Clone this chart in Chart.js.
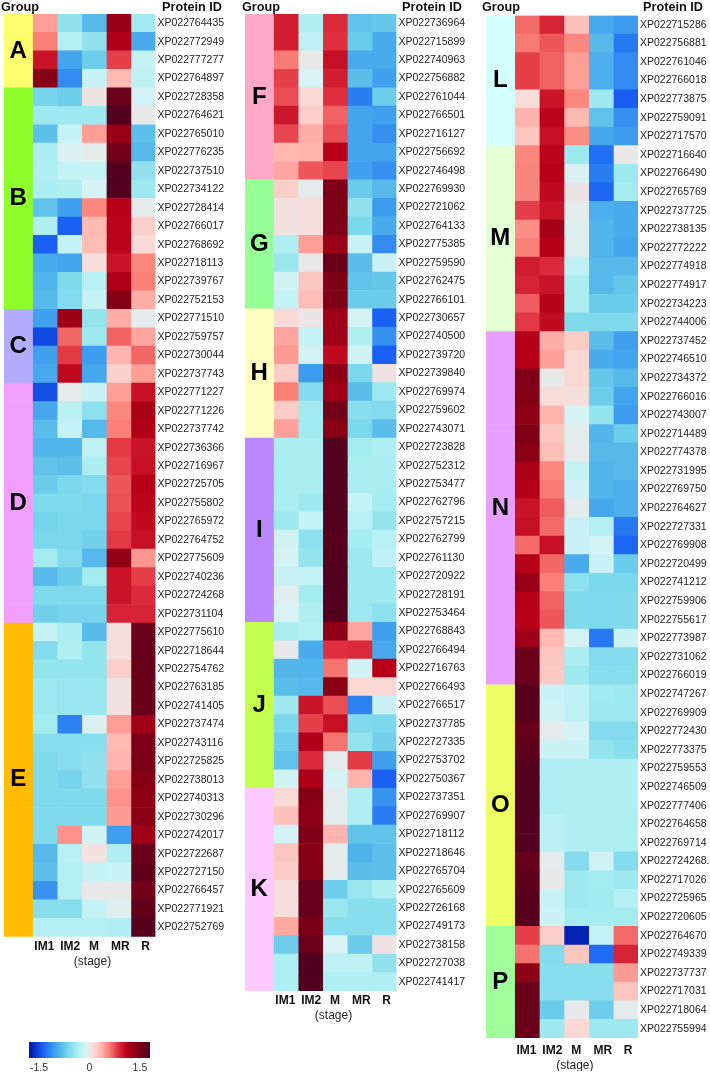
<!DOCTYPE html>
<html>
<head>
<meta charset="utf-8">
<title>Protein heatmap</title>
<script src="https://cdn.jsdelivr.net/npm/chart.js@4"></script>
<style>
  body { margin: 0; background: #fff; }
  canvas { position: absolute; top: 0; }
</style>
</head>
<body>
<canvas id="panel1" width="240" height="970" style="left:0"></canvas>
<canvas id="panel2" width="240" height="1024" style="left:240px"></canvas>
<canvas id="panel3" width="230" height="1071" style="left:480px"></canvas>
<canvas id="colorbar" width="180" height="44" style="left:0;top:1030px"></canvas>
<script>
const stages = ['IM1', 'IM2', 'M', 'MR', 'R'];
// labels in the original are not quite centred on their columns
const stageTicks = [0.48, 1.53, 2.5, 3.57, 4.6];

const groupColors = {
  A: '#fdff6e', B: '#8fff2c', C: '#b3adff', D: '#f29eff', E: '#ffbc00', F: '#ffa8c8',
  G: '#96ff96', H: '#ffffc0', I: '#bb88ff', J: '#c4ff4d', K: '#ffc8ff', L: '#d4ffff',
  M: '#e4ffd4', N: '#e8a0ff', O: '#eeff66', P: '#a0ff9a'
};

// colour key of the heatmap
const keyValues = [-1.8, -1.55, -1.38, -1.25, -1.03, -0.83, -0.62, -0.38, -0.22, -0.1, 0, 0.12, 0.35, 0.58, 0.85, 1.1, 1.4, 1.8];
const keyColors = ['#00109a', '#0c40d8', '#1a60f4', '#2878f2', '#40a0ee', '#58bcea', '#7cd8ec', '#a5ecf0', '#c5f2f5', '#d8f2f5',
  '#e8e8e8', '#f8dcd8', '#ffb5ae', '#fa8078', '#e03040', '#b80018', '#860015', '#50001e'];
const keyTicks = [-1.5, 0, 1.5];

const panel1Groups = ['A', 'B', 'C', 'D', 'E'];
const panel1Sizes = [4, 12, 4, 13, 17];
const panel1Ids = ['XP022764435','XP022772949','XP022777277','XP022764897','XP022728358','XP022764621','XP022765010','XP022776235',
  'XP022737510','XP022734122','XP022728414','XP022766017','XP022768692','XP022718113','XP022739767','XP022752153',
  'XP022771510','XP022759757','XP022730044','XP022737743','XP022771227','XP022771226','XP022737742','XP022736366',
  'XP022716967','XP022725705','XP022755802','XP022765972','XP022764752','XP022775609','XP022740236','XP022724268',
  'XP022731104','XP022775610','XP022718644','XP022754762','XP022763185','XP022741405','XP022737474','XP022743116',
  'XP022725825','XP022738013','XP022740313','XP022730296','XP022742017','XP022722687','XP022727150','XP022766457',
  'XP022771921','XP022752769'];
const panel1Values = [
  [.45,-.5,-.85,1.3,-.4],[.58,-.3,-.5,1.15,-.95],[1.0,-1.0,-.7,.8,-.22],[1.4,-1.15,-.2,.32,-.25],
  [-.65,-.7,.05,1.6,-.13],[-.42,-.42,-.42,1.78,0],[-.8,-.22,.45,1.3,-.8],[-.35,-.08,-.02,1.55,-.85],
  [-.32,-.22,-.22,1.78,-.5],[-.35,-.32,-.12,1.78,-.42],[-.78,-1.03,.55,1.1,-.02],[-.32,-1.38,.32,1.08,.2],
  [-1.38,-.22,.3,1.08,.13],[-.95,-1.0,.1,1.0,.55],[-.88,-.6,-.28,1.15,.58],[-.85,-.58,-.22,1.4,.38],
  [-1.03,1.25,-.48,.38,-.03],[-1.5,.66,-.42,.68,.42],[-1.03,.82,-1.05,.35,.66],[-.97,1.05,-.98,.18,.45],
  [-1.48,-.02,-.18,.45,1.02],[-.98,-.27,-.52,.55,1.2],[-.82,-.22,-.85,.58,1.15],[-.88,-.88,-.25,.82,1.0],
  [-.78,-.8,-.35,.78,1.02],[-.72,-.62,-.58,.72,1.12],[-.6,-.6,-.62,.74,1.08],[-.66,-.62,-.62,.78,1.05],
  [-.63,-.63,-.68,.82,1.02],[-.38,-.58,-.85,1.32,.48],[-.85,-.72,-.38,1.0,.8],[-.6,-.6,-.6,1.0,.88],
  [-.68,-.65,-.65,.92,.92],[-.22,-.35,-.85,.08,1.6],[-.58,-.32,-.48,.1,1.65],[-.48,-.48,-.48,.2,1.62],
  [-.42,-.45,-.45,.05,1.62],[-.42,-.45,-.45,.07,1.62],[-.38,-1.2,-.08,.45,1.25],[-.55,-.55,-.55,.32,1.5],
  [-.6,-.55,-.5,.35,1.5],[-.6,-.65,-.5,.45,1.4],[-.6,-.6,-.6,.5,1.35],[-.6,-.6,-.6,.46,1.38],
  [-.6,.5,-.15,-1.03,1.25],[-.85,-.28,.07,-.33,1.6],[-.8,-.3,-.22,-.2,1.68],[-1.1,-.3,0,0,1.55],
  [-.55,-.55,-.22,-.05,1.68],[-.3,-.3,-.3,-.33,1.75]
];

const panel2Groups = ['F', 'G', 'H', 'I', 'J', 'K'];
const panel2Sizes = [9, 7, 7, 10, 9, 11];
const panel2Ids = ['XP022736964','XP022715899','XP022740963','XP022756882','XP022761044','XP022766501','XP022716127','XP022756692',
  'XP022746498','XP022769930','XP022721062','XP022764133','XP022775385','XP022759590','XP022762475','XP022766101',
  'XP022730657','XP022740500','XP022739720','XP022739840','XP022769974','XP022759602','XP022743071','XP022723828',
  'XP022752312','XP022753477','XP022762796','XP022757215','XP022762799','XP022761130','XP022720922','XP022728191',
  'XP022753464','XP022768843','XP022766494','XP022716763','XP022766493','XP022766517','XP022737785','XP022727335',
  'XP022753702','XP022750367','XP022737351','XP022769907','XP022718112','XP022718646','XP022765704','XP022765609',
  'XP022726168','XP022749173','XP022738158','XP022727038','XP022741417'];
const panel2Values = [
  [.95,-.32,.88,-.78,-.75],[.95,-.25,.85,-.72,-.95],[.6,0,1.02,-.95,-.95],[.8,-.1,.95,-.82,-1.03],
  [.75,.13,.85,-1.22,-.7],[.98,.2,.68,-1.0,-1.03],[.78,.38,.75,-1.0,-1.12],[.33,.36,1.1,-1.0,-1.0],
  [.42,.72,.78,-1.03,-1.12],[.2,-.03,1.45,-.72,-.85],[.07,.1,1.45,-.5,-1.05],[.07,.1,1.45,-.62,-.95],
  [-.32,.45,1.3,-.2,-1.15],[-.45,0,1.62,-.82,-.2],[-.15,.25,1.45,-.78,-.75],[-.22,.3,1.45,-.72,-.72],
  [.13,.02,1.25,-.12,-1.38],[.42,-.22,1.25,-.32,-1.12],[.47,-.14,1.05,-.15,-1.38],[.22,-1.05,1.35,-.62,.06],
  [.58,-.58,1.25,-.82,-.42],[.22,-.4,1.55,-.55,-.58],[.44,-.4,1.38,-.62,-.82],[-.35,-.35,1.78,-.38,-.33],
  [-.36,-.36,1.78,-.36,-.36],[-.36,-.36,1.78,-.36,-.36],[-.35,-.42,1.78,-.22,-.38],[-.42,-.22,1.78,-.28,-.48],
  [-.15,-.52,1.75,-.38,-.28],[-.12,-.48,1.75,-.42,-.25],[-.2,-.22,1.78,-.42,-.42],[-.05,-.38,1.78,-.42,-.42],
  [-.1,-.32,1.78,-.42,-.52],[-.35,-.3,1.35,.42,-1.03],[0,-.95,.85,.88,-.97],[-.87,-.88,.62,-.15,1.1],
  [-.82,-.85,1.38,.15,.15],[-.42,1.0,.75,-1.2,-.18],[-.62,.8,1.02,-.6,-.62],[-.7,1.15,.62,-.48,-.68],
  [-.78,.88,-.03,.82,-1.03],[-.15,1.18,-.12,.36,-1.38],[.13,1.4,-.04,-.33,-1.1],[.28,1.35,-.04,-.33,-1.22],
  [-.14,1.45,.35,-.78,-.78],[.25,1.4,-.02,-.9,-.8],[.22,1.42,-.02,-.82,-.8],[.1,1.65,-.7,-.45,-.32],
  [.1,1.65,-.45,-.55,-.55],[.4,1.5,-.55,-.55,-.55],[-.7,1.6,-.1,-.72,.06],[-.33,1.8,-.25,-.25,-.5],
  [-.33,1.78,-.33,-.33,-.33]
];

const panel3Groups = ['L', 'M', 'N', 'O', 'P'];
const panel3Sizes = [7, 10, 19, 13, 6];
const panel3Ids = ['XP022715286','XP022756881','XP022761046','XP022766018','XP022773875','XP022759091','XP022717570','XP022716640',
  'XP022766490','XP022765769','XP022737725','XP022738135','XP022772222','XP022774918','XP022774917','XP022734223',
  'XP022744006','XP022737452','XP022746510','XP022734372','XP022766016','XP022743007','XP022714489','XP022774378',
  'XP022731995','XP022769750','XP022764627','XP022727331','XP022769908','XP022720499','XP022741212','XP022759906',
  'XP022755617','XP022773987','XP022731062','XP022766019','XP022747267','XP022769909','XP022772430','XP022773375',
  'XP022759553','XP022746509','XP022777406','XP022764658','XP022769714','XP022724268.','XP022717026','XP022725965',
  'XP022720605','XP022764670','XP022749339','XP022737737','XP022717031','XP022718064','XP022755994'];
const panel3Values = [
  [.65,.92,.28,-.97,-1.05],[.6,.72,.55,-.85,-1.25],[.8,.68,.45,-.93,-1.15],[.8,.68,.45,-.93,-1.15],
  [.12,1.0,.55,-.42,-1.4],[.36,1.08,.33,-.78,-1.12],[.25,1.02,.52,-.98,-1.05],[.55,1.08,-.42,-1.3,0],
  [.56,1.1,-.08,-1.22,-.42],[.56,1.05,.03,-1.35,-.38],[.8,1.0,-.03,-.93,-.95],[.52,1.22,-.06,-.88,-.95],
  [.58,1.12,-.05,-.88,-1.0],[.95,.88,-.25,-.85,-.85],[.92,1.0,-.35,-.85,-.75],[.7,1.1,-.35,-.72,-.72],
  [.82,1.05,-.6,-.6,-.6],[1.12,.38,.22,-.82,-1.03],[1.12,.44,.15,-.95,-1.0],[1.45,0,.15,-.75,-.85],
  [1.42,.12,.1,-.7,-1.0],[1.35,.35,-.12,-.48,-1.05],[1.45,.25,-.04,-.87,-.7],[1.38,.3,-.02,-.85,-.85],
  [1.2,.55,-.22,-.88,-.85],[1.12,.6,-.15,-.88,-.92],[1.0,.7,-.03,-.98,-.92],[1.02,.65,-.2,-.3,-1.25],
  [.65,1.02,-.2,-.13,-1.35],[1.12,.66,-.95,-.2,-.72],[1.3,.58,-.52,-.62,-.62],[1.12,.68,-.6,-.6,-.6],
  [1.1,.72,-.6,-.6,-.6],[1.25,.32,-.14,-1.25,-.18],[1.6,.25,-.35,-.58,-.58],[1.6,.24,-.42,-.55,-.55],
  [1.75,-.2,-.25,-.4,-.42],[1.75,-.15,-.25,-.42,-.42],[1.65,-.03,-.12,-.58,-.58],[1.7,-.18,-.18,-.48,-.55],
  [1.78,-.33,-.33,-.33,-.33],[1.78,-.33,-.33,-.33,-.33],[1.78,-.33,-.33,-.33,-.33],[1.78,-.27,-.32,-.33,-.34],
  [1.78,-.27,-.32,-.33,-.34],[1.65,-.03,-.58,-.15,-.58],[1.7,0,-.42,-.38,-.42],[1.75,-.2,-.42,-.4,-.3],
  [1.75,-.18,-.38,-.38,-.38],[.8,.2,-1.7,-.22,.65],[.62,-.58,.25,-1.32,.92],[1.35,-.55,-.55,-.55,.46],
  [1.6,-.55,-.55,-.55,.26],[1.6,-.72,0,-.7,-.02],[1.6,-.42,.14,-.42,-.42]
];

const FONT = '"Liberation Sans", Arial, sans-serif';

function hexToRgb(hex) {
  return [1, 3, 5].map(i => parseInt(hex.slice(i, i + 2), 16));
}

function heatColor(v) {
  let i = 0;
  while (i < keyValues.length - 2 && v > keyValues[i + 1]) i++;
  const t = Math.min(1, Math.max(0, (v - keyValues[i]) / (keyValues[i + 1] - keyValues[i])));
  const a = hexToRgb(keyColors[i]);
  const b = hexToRgb(keyColors[i + 1]);
  return `rgb(${a.map((c, k) => Math.round(c + (b[k] - c) * t)).join(',')})`;
}

function drawPanel(id, groups, sizes, ids, values, box) {
  // one colour per row for the group strip
  const rowGroups = [];
  groups.forEach((g, i) => {
    for (let n = 0; n < sizes[i]; n++) rowGroups.push(g);
  });

  const groupStrip = {
    data: ids.map(() => [box.stripMin, 0]),
    backgroundColor: rowGroups.map(g => groupColors[g])
  };
  const stageSets = stages.map((s, col) => ({
    label: s,
    data: ids.map(() => [col, col + 1]),
    backgroundColor: values.map(row => heatColor(row[col]))
  }));

  const labels = {
    id: 'panelText',
    afterDraw(chart) {
      const ctx = chart.ctx;
      const y = chart.scales.y;
      const x = chart.scales.x;
      ctx.save();
      ctx.fillStyle = '#000';
      ctx.textBaseline = 'middle';
      ctx.textAlign = 'center';
      ctx.font = `bold 24px ${FONT}`;
      let start = 0;
      groups.forEach((g, i) => {
        const end = start + sizes[i] - 1;
        const yMid = (y.getPixelForValue(start) + y.getPixelForValue(end)) / 2;
        ctx.fillText(g, x.getPixelForValue(box.stripMin / 2), yMid);
        start = end + 1;
      });
      // axis title sits over the stage columns, not over the whole area
      ctx.font = `12px ${FONT}`;
      ctx.fillStyle = '#222';
      ctx.fillText('(stage)', x.getPixelForValue(2.44), chart.chartArea.bottom + box.stageGap);
      ctx.textAlign = 'left';
      ctx.font = `bold 12.7px ${FONT}`;
      ctx.fillStyle = '#111';
      ctx.fillText('Group', box.groupX, 7);
      ctx.fillText('Protein ID', box.idX, 7);
      ctx.restore();
    }
  };

  new Chart(document.getElementById(id), {
    type: 'bar',
    data: { labels: ids, datasets: [groupStrip, ...stageSets] },
    plugins: [labels],
    options: {
      indexAxis: 'y',
      responsive: false,
      animation: false,
      layout: { padding: { left: box.left, top: box.top, right: 0, bottom: 0 } },
      datasets: { bar: { barPercentage: 1, categoryPercentage: 1, grouped: false, borderWidth: 0 } },
      plugins: { legend: { display: false }, tooltip: { enabled: false } },
      scales: {
        x: {
          type: 'linear',
          min: box.stripMin,
          max: 5,
          grid: { display: false, drawTicks: false },
          border: { display: false },
          afterFit: s => { s.height = box.axisHeight; },
          afterBuildTicks: s => { s.ticks = stageTicks.map(v => ({ value: v })); },
          ticks: {
            autoSkip: false,
            maxRotation: 0,
            padding: box.tickPad,
            color: '#111',
            font: { family: FONT, size: 12, weight: 'bold' },
            callback: v => stages[stageTicks.indexOf(v)]
          }
        },
        y: {
          position: 'right',
          grid: { display: false, drawTicks: false },
          border: { display: false },
          afterFit: s => { s.width = box.idWidth; },
          ticks: {
            autoSkip: false,
            padding: 2,
            color: '#222',
            font: { family: FONT, size: 10.5 }
          }
        }
      }
    }
  });
}

drawPanel('panel1', panel1Groups, panel1Sizes, panel1Ids, panel1Values,
  { left: 4, top: 14, idWidth: 84.5, axisHeight: 33.3, stripMin: -1.16, groupX: 1, idX: 162, tickPad: 2.5, stageGap: 25 });
drawPanel('panel2', panel2Groups, panel2Sizes, panel2Ids, panel2Values,
  { left: 5, top: 14, idWidth: 83.5, axisHeight: 33, stripMin: -1.16, groupX: 2, idX: 162, tickPad: 2.5, stageGap: 25 });
drawPanel('panel3', panel3Groups, panel3Sizes, panel3Ids, panel3Values,
  { left: 6, top: 15.5, idWidth: 72, axisHeight: 33, stripMin: -1.16, groupX: 2, idX: 163, tickPad: 5, stageGap: 28 });

// colour key
new Chart(document.getElementById('colorbar'), {
  type: 'bar',
  data: {
    labels: ['key'],
    datasets: [{
      data: [[keyValues[0], keyValues[keyValues.length - 1]]],
      backgroundColor: c => {
        const area = c.chart.chartArea;
        if (!area) return '#fff';
        const g = c.chart.ctx.createLinearGradient(area.left, 0, area.right, 0);
        const lo = keyValues[0];
        const hi = keyValues[keyValues.length - 1];
        keyValues.forEach((v, i) => g.addColorStop((v - lo) / (hi - lo), keyColors[i]));
        return g;
      }
    }]
  },
  options: {
    indexAxis: 'y',
    responsive: false,
    animation: false,
    layout: { padding: { left: 29, right: 30, top: 12, bottom: 0 } },
    datasets: { bar: { barPercentage: 1, categoryPercentage: 1 } },
    plugins: { legend: { display: false }, tooltip: { enabled: false } },
    scales: {
      x: {
        type: 'linear',
        min: keyValues[0],
        max: keyValues[keyValues.length - 1],
        grid: { display: false, drawTicks: false },
        border: { display: false },
        afterFit: s => { s.height = 16; },
        afterBuildTicks: s => { s.ticks = keyTicks.map(v => ({ value: v })); },
        ticks: {
          padding: 4,
          color: '#333',
          font: { family: FONT, size: 10.5 },
          callback: v => String(v)
        }
      },
      y: { display: false }
    }
  }
});
</script>
</body>
</html>
